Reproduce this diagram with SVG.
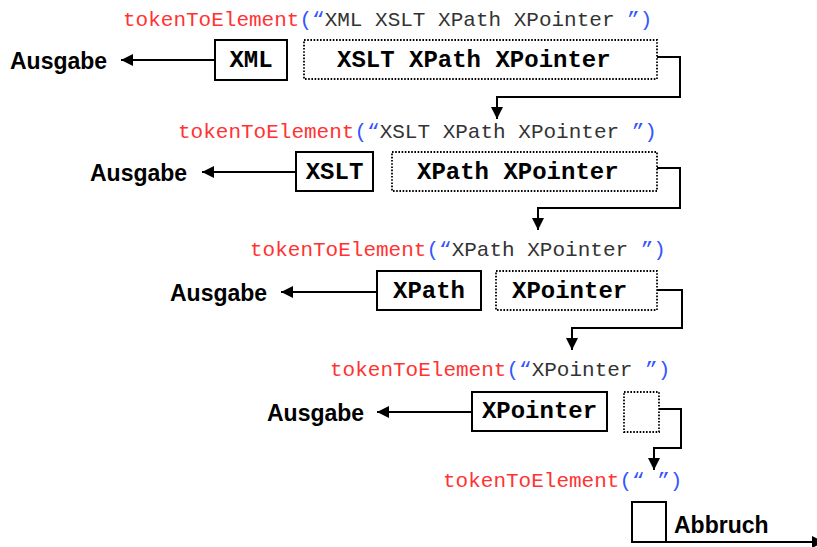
<svg xmlns="http://www.w3.org/2000/svg" width="817" height="547" viewBox="0 0 817 547">
  <style>
    .code { font-family: "Liberation Mono", "Courier New", monospace; font-size: 21px; }
    .fn { fill: #ff3333; }
    .punct { fill: #3355ff; }
    .arg { fill: #333333; }
    .tok { font-family: "Liberation Mono", "Courier New", monospace; font-size: 24px; font-weight: bold; fill: #000; }
    .label { font-family: "Liberation Sans", Arial, sans-serif; font-size: 23px; font-weight: bold; fill: #000; }
    .box { fill: #fff; stroke: #000; stroke-width: 2; }
    .rest { fill: #fff; stroke: #000; stroke-width: 1.8; stroke-dasharray: 1.6 1.6; }
    .wire { fill: none; stroke: #000; stroke-width: 2; }
  </style>
  <defs>
    <marker id="head" markerUnits="userSpaceOnUse" markerWidth="12" markerHeight="12" refX="12" refY="6" orient="auto">
      <path d="M0,0 L12,6 L0,12 z" fill="#000"/>
    </marker>
  </defs>

  <rect width="817" height="547" fill="#fff"/>

  <!-- call 1 -->
  <g id="call1">
    <text class="code" x="123" y="26"><tspan class="fn">tokenToElement</tspan><tspan class="punct">(“</tspan><tspan class="arg">XML XSLT XPath XPointer </tspan><tspan class="punct">”)</tspan></text>
    <text class="label" x="10" y="69">Ausgabe</text>
    <g id="token-xml">
      <rect class="box" x="215" y="40" width="72" height="40"/>
      <text class="tok" x="251" y="67" text-anchor="middle">XML</text>
    </g>
    <g id="rest1">
      <rect class="rest" x="304" y="40" width="353" height="39"/>
      <text class="tok" x="337" y="67">XSLT XPath XPointer</text>
    </g>
  </g>

  <!-- call 2 -->
  <g id="call2">
    <text class="code" x="178" y="138"><tspan class="fn">tokenToElement</tspan><tspan class="punct">(“</tspan><tspan class="arg">XSLT XPath XPointer </tspan><tspan class="punct">”)</tspan></text>
    <text class="label" x="90" y="181">Ausgabe</text>
    <g id="token-xslt">
      <rect class="box" x="296" y="152" width="77" height="39"/>
      <text class="tok" x="334.5" y="179" text-anchor="middle">XSLT</text>
    </g>
    <g id="rest2">
      <rect class="rest" x="392" y="152" width="265" height="39"/>
      <text class="tok" x="417" y="179">XPath XPointer</text>
    </g>
  </g>

  <!-- call 3 -->
  <g id="call3">
    <text class="code" x="250" y="256"><tspan class="fn">tokenToElement</tspan><tspan class="punct">(“</tspan><tspan class="arg">XPath XPointer </tspan><tspan class="punct">”)</tspan></text>
    <text class="label" x="170" y="301">Ausgabe</text>
    <g id="token-xpath">
      <rect class="box" x="377" y="271" width="104" height="39"/>
      <text class="tok" x="429" y="298" text-anchor="middle">XPath</text>
    </g>
    <g id="rest3">
      <rect class="rest" x="496" y="271" width="161" height="39"/>
      <text class="tok" x="512" y="298">XPointer</text>
    </g>
  </g>

  <!-- call 4 -->
  <g id="call4">
    <text class="code" x="330" y="376"><tspan class="fn">tokenToElement</tspan><tspan class="punct">(“</tspan><tspan class="arg">XPointer </tspan><tspan class="punct">”)</tspan></text>
    <text class="label" x="267" y="421">Ausgabe</text>
    <g id="token-xpointer">
      <rect class="box" x="472" y="392" width="135" height="39"/>
      <text class="tok" x="539.5" y="418" text-anchor="middle">XPointer</text>
    </g>
    <g id="rest4">
      <rect class="rest" x="624" y="392" width="35" height="40"/>
    </g>
  </g>

  <!-- call 5: empty input -->
  <g id="call5">
    <text class="code" x="443" y="487"><tspan class="fn">tokenToElement</tspan><tspan class="punct">(“ ”)</tspan></text>
    <g id="empty">
      <rect class="box" x="632" y="502" width="34" height="40"/>
    </g>
    <text class="label" x="674" y="533">Abbruch</text>
  </g>

  <!-- connectors -->
  <g id="connectors">
    <line class="wire" x1="215" y1="60" x2="121" y2="60" marker-end="url(#head)"/>
    <line class="wire" x1="296" y1="172" x2="202" y2="172" marker-end="url(#head)"/>
    <line class="wire" x1="377" y1="292" x2="281" y2="292" marker-end="url(#head)"/>
    <line class="wire" x1="472" y1="412" x2="377" y2="412" marker-end="url(#head)"/>

    <polyline class="wire" points="657,57 680,57 680,97 497,97 497,119" marker-end="url(#head)"/>
    <polyline class="wire" points="657,168 680,168 680,208 538,208 538,230" marker-end="url(#head)"/>
    <polyline class="wire" points="657,290 682,290 682,328 572,328 572,350" marker-end="url(#head)"/>
    <polyline class="wire" points="659,409 681,409 681,448 654,448 654,470" marker-end="url(#head)"/>

    <line class="wire" x1="666" y1="542" x2="824" y2="542" marker-end="url(#head)"/>
  </g>
</svg>
